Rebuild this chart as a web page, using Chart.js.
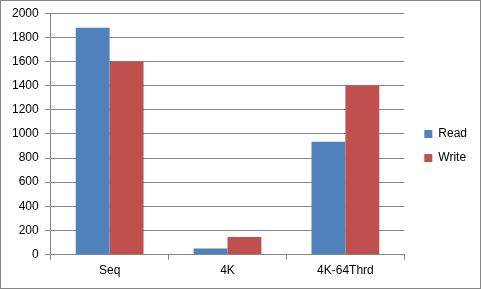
<!DOCTYPE html>
<html><head><meta charset="utf-8">
<script src="https://cdn.jsdelivr.net/npm/chart.js@4/dist/chart.umd.min.js"></script>
<style>html,body{margin:0;padding:0;background:#fff}#wrap{width:481px;height:289px;position:relative}</style>
</head><body><div id="wrap"><canvas id="c" width="481" height="289"></canvas></div>
<script>
const categories = ["Seq", "4K", "4K-64Thrd"];
const readValues = [1880, 50, 935];
const writeValues = [1600, 145, 1400];
const yTicks = [0, 200, 400, 600, 800, 1000, 1200, 1400, 1600, 1800, 2000];

const bgBorder = {
  id: 'bgBorder',
  beforeLayout(chart) {
    const lg = chart.legend;
    if (lg && !lg._patched) {
      const orig = lg.fit;
      lg.fit = function () { orig.call(this); this.width += 7; };
      lg._patched = true;
    }
  },
  afterLayout(chart) {
    const lg = chart.legend;
    if (lg) { lg.left += 8; }
  },
  beforeDraw(chart) {
    const ctx = chart.ctx;
    ctx.save();
    ctx.fillStyle = '#fff';
    ctx.fillRect(0, 0, chart.width, chart.height);
    ctx.strokeStyle = '#868686';
    ctx.lineWidth = 1;
    ctx.strokeRect(0.5, 0.5, chart.width - 1, chart.height - 1);
    ctx.restore();
  }
};

Chart.defaults.font.family = "'Liberation Sans', Arial, sans-serif";
Chart.defaults.font.size = 12;
Chart.defaults.color = '#000';

new Chart(document.getElementById('c'), {
  type: 'bar',
  data: {
    labels: categories,
    datasets: [
      { label: 'Read', data: readValues, backgroundColor: '#4F81BD', barPercentage: 1, categoryPercentage: 0.575 },
      { label: 'Write', data: writeValues, backgroundColor: '#C0504D', barPercentage: 1, categoryPercentage: 0.575 }
    ]
  },
  options: {
    responsive: false,
    animation: false,
    devicePixelRatio: 1,
    layout: { padding: { left: 6, top: 10, right: 5, bottom: 7 } },
    plugins: {
      legend: {
        position: 'right',
        align: 'center',
        labels: { boxWidth: 8, boxHeight: 8, padding: 12, font: { size: 12 } }
      },
      tooltip: { enabled: false }
    },
    scales: {
      x: {
        grid: { display: true, drawOnChartArea: false, drawTicks: true, tickLength: 5, color: '#868686', offset: true },
        border: { display: true, color: '#868686' },
        ticks: { padding: 4, font: { size: 12 } }
      },
      y: {
        min: 0, max: 2000,
        afterBuildTicks(axis) { axis.ticks = yTicks.map(v => ({ value: v })); },
        grid: { color: '#868686', tickLength: 6 },
        border: { display: true, color: '#868686' },
        ticks: { padding: 6, font: { size: 12 }, callback: v => String(v) }
      }
    }
  },
  plugins: [bgBorder]
});
</script></body></html>
